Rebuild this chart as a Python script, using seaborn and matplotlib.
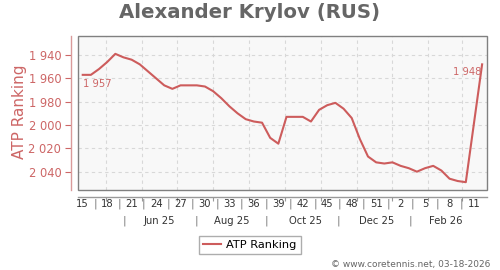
import matplotlib
matplotlib.use("Agg")
import matplotlib.pyplot as plt
import seaborn as sns
import pandas as pd
from matplotlib.patches import Rectangle

# ---- data (week index 0 = week 15 of 2025) ----
week_index = [0, 1, 2, 3, 4, 5, 6, 7, 8, 9, 10, 11, 12, 13, 14, 15, 16, 17, 18, 19,
              20, 21, 22, 23, 24, 25, 26, 27, 28, 29, 30, 31, 32, 33, 34, 35, 36, 37, 38, 39,
              40, 41, 42, 43, 44, 45, 46, 47, 49]
ranking = [1957, 1957, 1952, 1946, 1939, 1942, 1944, 1948, 1954, 1960,
           1966, 1969, 1966, 1966, 1966, 1967, 1971, 1977, 1984, 1990,
           1995, 1997, 1998, 2011, 2016, 1993, 1993, 1993, 1997, 1987,
           1983, 1981, 1986, 1994, 2012, 2027, 2032, 2033, 2032, 2035,
           2037, 2040, 2037, 2035, 2039, 2046, 2048, 2049, 1948]
series_name = "ATP Ranking"

week_labels = ["15", "18", "21", "24", "27", "30", "33", "36", "39", "42", "45",
               "48", "51", "2", "5", "8", "11"]
week_label_pos = [0, 3, 6, 9, 12, 15, 18, 21, 24, 27, 30, 33, 36, 39, 42, 45, 48]
month_labels = ["Jun 25", "Aug 25", "Oct 25", "Dec 25", "Feb 26"]
month_label_pos = [9.4, 18.3, 27.3, 36.0, 44.5]
month_sep_pos = [5.1, 13.9, 22.6, 31.4, 40.2]
grid_x = [2.9, 7.3, 11.6, 16.0, 20.4, 24.8, 29.2, 33.6, 38.0, 42.3, 46.5]
y_ticks = [1940, 1960, 1980, 2000, 2020, 2040]

RED = "#cd5c5c"
RED_TXT = "#cd6666"


def fmt(v):
    return f"{v // 1000} {v % 1000:03d}"


fig = plt.figure(figsize=(5, 2.7), dpi=100)
ax = fig.add_axes([78 / 500, 1 - 190 / 270, (487 - 78) / 500, (190 - 36) / 270])
ax.set_facecolor("#f8f8f8")

df = pd.DataFrame({"week": week_index, "rank": ranking, "series": series_name})
sns.lineplot(data=df, x="week", y="rank", hue="series", palette=[RED], lw=1.5,
             ax=ax, legend=True)

ax.set_xlim(-0.58, 49.6)
ax.set_ylim(2055.7, 1923.7)
ax.set_xlabel("")
ax.set_ylabel("")

ax.set_yticks(y_ticks)
ax.set_yticklabels([fmt(v) for v in y_ticks])
ax.set_xticks(grid_x)
ax.set_xticklabels([])
ax.grid(True, ls=(0, (3, 3)), color="#d8d8d8", lw=0.8)
ax.set_axisbelow(True)

ax.tick_params(axis="y", colors=RED_TXT, labelsize=8.3, length=4, width=0.8, pad=3)
ax.tick_params(axis="x", colors="#999999", length=3, width=0.8)

for s in ["top", "right"]:
    ax.spines[s].set_visible(False)
ax.spines["left"].set_position(("outward", 5))
ax.spines["left"].set_color("#d99a9a")
ax.spines["left"].set_linewidth(1)
ax.spines["bottom"].set_position(("outward", 5))
ax.spines["bottom"].set_color("#999999")
ax.spines["bottom"].set_linewidth(1)
ax.add_patch(Rectangle((0, 0), 1, 1, transform=ax.transAxes, fill=False,
                       ec="#808080", lw=1, clip_on=False, zorder=5))

# x labels: weeks and months
tr = ax.get_xaxis_transform()
for p, lab in zip(week_label_pos, week_labels):
    ax.text(p, -0.091, lab, transform=tr, ha="center", va="center",
            fontsize=7.2, color="#333333")
for a, b in zip(week_label_pos[:-1], week_label_pos[1:]):
    ax.text((a + b) / 2, -0.091, "|", transform=tr, ha="center", va="center",
            fontsize=7.5, color="#777777")
for p, lab in zip(month_label_pos, month_labels):
    ax.text(p, -0.2, lab, transform=tr, ha="center", va="center",
            fontsize=7.2, color="#333333")
for p in month_sep_pos:
    ax.text(p, -0.2, "|", transform=tr, ha="center", va="center",
            fontsize=7.5, color="#777777")

# point annotations
ax.annotate(fmt(ranking[0]), (week_index[0], ranking[0]), xytext=(0, -9),
            textcoords="offset pixels", ha="left", va="center", fontsize=7.2,
            color=RED_TXT)
ax.annotate(fmt(ranking[-1]), (week_index[-1], ranking[-1]), xytext=(-1, -8),
            textcoords="offset pixels", ha="right", va="center", fontsize=7.2,
            color=RED_TXT)

# legend
handles, labels = ax.get_legend_handles_labels()
ax.legend(handles, labels, loc="center", bbox_to_anchor=(0.5, 1 - 245 / 270),
          bbox_transform=fig.transFigure, frameon=True, fancybox=False,
          edgecolor="#999999", fontsize=8.2, handlelength=1.5,
          borderpad=0.35, handletextpad=0.5)

fig.text(0.5, 1 - 13 / 270, "Alexander Krylov (RUS)", ha="center", va="center",
         fontsize=14.2, fontweight="bold", color="#666666")
fig.text(20 / 500, 1 - 112 / 270, "ATP Ranking", rotation=90, ha="center",
         va="center", fontsize=11, color=RED_TXT)
fig.text(490 / 500, 1 - 264 / 270, "\u00a9 www.coretennis.net, 03-18-2026",
         ha="right", va="center", fontsize=6.5, color="#666666")

fig.savefig("out.png", dpi=100)
